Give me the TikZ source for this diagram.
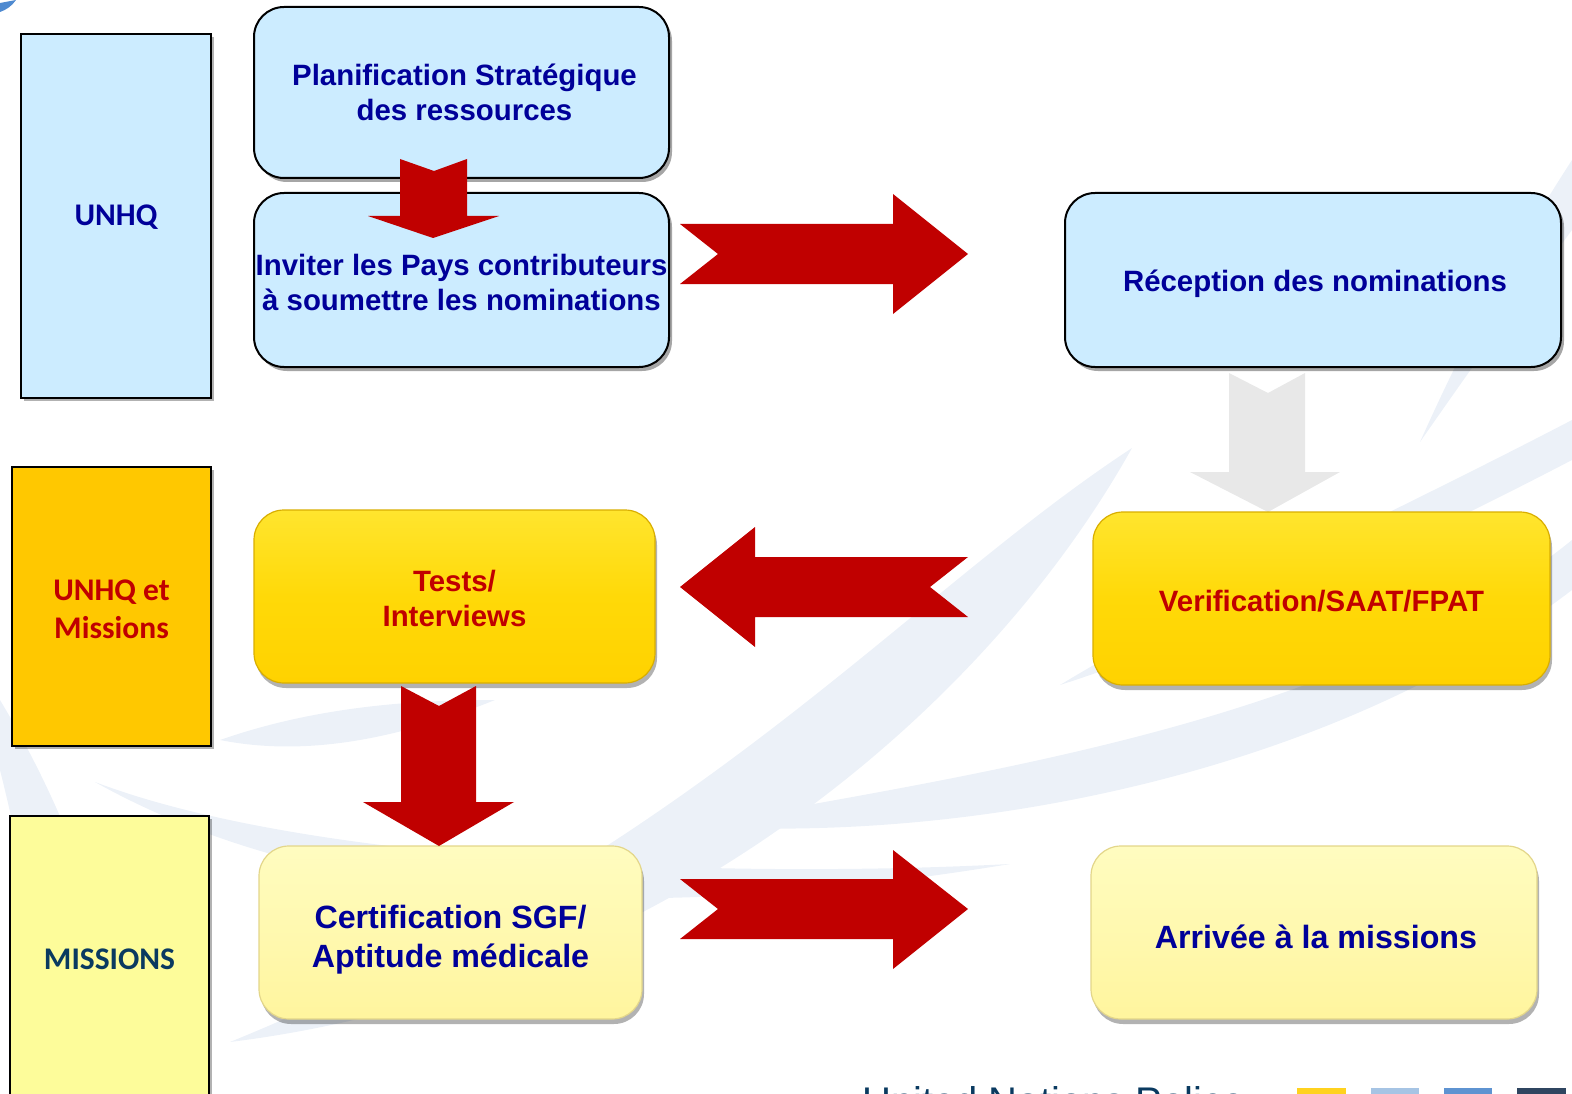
\documentclass[tikz,border=0pt]{standalone}
\usepackage{fontspec}
\setmainfont{Liberation Sans}
\newfontfamily\calib{Carlito}
\usetikzlibrary{shadows,calc}
\definecolor{boxblue}{HTML}{CCECFF}
\definecolor{navytext}{HTML}{000099}
\definecolor{redtext}{HTML}{C00000}
\definecolor{arrowred}{HTML}{C00000}
\definecolor{goldside}{HTML}{FFC800}
\definecolor{paleside}{HTML}{FDFC9A}
\definecolor{misstext}{HTML}{0A3A60}
\definecolor{swoosh}{HTML}{ECF1F8}
\definecolor{grayarrow}{HTML}{E8E8E8}
\definecolor{goldtop}{HTML}{FFE52E}
\definecolor{goldmid}{HTML}{FFD908}
\definecolor{goldbot}{HTML}{FFD200}
\definecolor{goldedge}{HTML}{D9AE00}
\definecolor{paletop}{HTML}{FFFCC0}
\definecolor{palebot}{HTML}{FFF59E}
\definecolor{paleedge}{HTML}{E3D68A}
\definecolor{sqA}{HTML}{FFD21F}
\definecolor{sqB}{HTML}{A6C4E4}
\definecolor{sqC}{HTML}{5E93D1}
\definecolor{sqD}{HTML}{2F4560}
\definecolor{cornerblue}{HTML}{4F8AD0}
\tikzset{
  sidebox/.style={draw=black, line width=1.6pt, inner sep=0pt,
     drop shadow={shadow xshift=3pt, shadow yshift=-3pt, opacity=0.3, fill=black}},
  sidetext/.style={inner sep=0pt, align=center, font=\calib\bfseries\fontsize{31.5}{38}\selectfont},
  bluebox/.style={draw=black, line width=2pt, fill=boxblue, rounded corners=30pt, inner sep=0pt,
     drop shadow={shadow xshift=3pt, shadow yshift=-4pt, opacity=0.35, fill=black}},
  bluetext/.style={inner sep=0pt, align=center, text=navytext, font=\bfseries\fontsize{29.4}{35}\selectfont},
  goldbox/.style={draw=goldedge, line width=1.2pt, top color=goldtop, bottom color=goldbot, middle color=goldmid,
     rounded corners=30pt, inner sep=0pt,
     drop shadow={shadow xshift=2pt, shadow yshift=-5pt, opacity=0.3, fill=black}},
  goldtext/.style={inner sep=0pt, align=center, text=redtext, font=\bfseries\fontsize{29.4}{35}\selectfont},
  palebox/.style={draw=paleedge, line width=1.2pt, top color=paletop, bottom color=palebot,
     rounded corners=30pt, inner sep=0pt,
     drop shadow={shadow xshift=2pt, shadow yshift=-5pt, opacity=0.3, fill=black}},
  paletext/.style={inner sep=0pt, align=center, text=navytext, font=\bfseries\fontsize{32.2}{38.5}\selectfont},
  redarrow/.style={fill=arrowred, draw=none},
  greyarrow/.style={fill=grayarrow, draw=none},
  leaf/.style={fill=swoosh, draw=none},
}
\begin{document}
\begin{tikzpicture}[x=1pt,y=-1pt]
\useasboundingbox (0,0) rectangle (1572,1094);
\begin{scope}
\clip (0,0) rectangle (1572,1094);
% background swooshes
\fill[leaf] (1132,448) .. controls (900,600) and (700,850) .. (230,1042) .. controls (650,990) and (980,720) .. (1132,448) -- cycle;
\fill[leaf] (95,782) .. controls (300,860) and (700,880) .. (1010,864) .. controls (700,915) and (350,925) .. (95,782) -- cycle;
\fill[leaf] (690,826) .. controls (1000,770) and (1350,720) .. (1572,540) -- (1572,590) .. controls (1350,760) and (1000,845) .. (690,826) -- cycle;
\fill[leaf] (220,740) .. controls (320,705) and (420,700) .. (495,700) .. controls (420,730) and (320,760) .. (220,740) -- cycle;
\fill[leaf] (1420,442) .. controls (1470,330) and (1520,240) .. (1572,160) -- (1572,230) .. controls (1520,300) and (1470,370) .. (1420,442) -- cycle;
\fill[leaf] (1060,685) .. controls (1200,600) and (1380,520) .. (1572,420) -- (1572,460) .. controls (1380,560) and (1200,640) .. (1060,685) -- cycle;
\fill[leaf] (0,700) .. controls (60,800) and (110,920) .. (140,1094) -- (60,1094) .. controls (40,950) and (20,850) .. (0,770) -- cycle;
% top-left corner swoosh
\fill[cornerblue] (0,3) -- (16,0) .. controls (12,6) and (6,10) .. (0,12) -- cycle;

% side labels
\node[sidebox, fill=boxblue, minimum width=190pt, minimum height=364pt] (sUNHQ) at (116,216) {};
\node[sidetext, text=navytext] (sUNHQ-t) at ([yshift=-1pt]sUNHQ.center) {UNHQ};
\node[sidebox, fill=goldside, minimum width=199pt, minimum height=279pt] (sBoth) at (111.5,606.5) {};
\node[sidetext, text=redtext] (sBoth-t) at ([yshift=-3pt]sBoth.center) {UNHQ et\\Missions};
\node[sidebox, fill=paleside, minimum width=199pt, minimum height=280pt] (sMiss) at (109.5,956) {};
\node[sidetext, text=misstext] (sMiss-t) at ([yshift=-3pt]sMiss.center) {MISSIONS};

% gray arrow (behind)
\fill[greyarrow] (1229,373) -- (1268,393) -- (1305,373) -- (1305,472) -- (1340,472) -- (1268,512) -- (1190,472) -- (1229,472) -- cycle;

% process boxes
\node[bluebox, minimum width=415pt, minimum height=171pt] (plan) at (461.5,92.5) {};
\node[bluebox, minimum width=415pt, minimum height=174pt] (invit) at (461.5,280) {};
\node[bluebox, minimum width=496pt, minimum height=174pt] (recep) at (1313,280) {};
\node[goldbox, minimum width=401pt, minimum height=173pt] (tests) at (454.5,596.5) {};
\node[goldbox, minimum width=457pt, minimum height=173pt] (verif) at (1321.5,598.5) {};
\node[palebox, minimum width=383pt, minimum height=173pt] (certif) at (450.5,932.5) {};
\node[palebox, minimum width=446pt, minimum height=173pt] (arriv) at (1314,932.5) {};

\node[bluetext] (plan-t) at ([xshift=3pt]plan.center) {Planification Stratégique\\des ressources};
\node[bluetext] (invit-t) at ([yshift=-2pt]invit.center) {Inviter les Pays contributeurs\\à soumettre les nominations};
\node[bluetext] (recep-t) at ([xshift=2pt,yshift=-4pt]recep.center) {Réception des nominations};
\node[goldtext] (tests-t) at ([yshift=-2pt]tests.center) {Tests/\\Interviews};
\node[goldtext] (verif-t) at ([yshift=-3pt]verif.center) {Verification/SAAT/FPAT};
\node[paletext] (certif-t) at ([yshift=-7pt]certif.center) {Certification SGF/\\Aptitude médicale};
\node[paletext] (arriv-t) at ([xshift=2pt,yshift=-4pt]arriv.center) {Arrivée à la missions};

% red block arrows
\fill[redarrow] (400,159) -- (434,171) -- (467,159) -- (467,216) -- (499,216) -- (433,238) -- (368,216) -- (400,216) -- cycle;
\fill[redarrow] (680,224) -- (893,224) -- (893,194) -- (968,254) -- (893,314) -- (893,284) -- (680,284) -- (718,254) -- cycle;
\fill[redarrow] (968,557) -- (755,557) -- (755,527) -- (680,587) -- (755,647) -- (755,617) -- (968,617) -- (930,587) -- cycle;
\fill[redarrow] (401,686) -- (439,706) -- (476,686) -- (476,802) -- (514,802) -- (439,846) -- (363,802) -- (401,802) -- cycle;
\fill[redarrow] (680,879) -- (893,879) -- (893,850) -- (968,909) -- (893,969) -- (893,939) -- (680,939) -- (718,909) -- cycle;

% footer (cut off at the bottom edge)
\node[anchor=base west, inner sep=0pt, text=misstext, font=\fontsize{40}{42}\selectfont] (footer) at (862,1115) {United Nations Police};
\fill[sqA] (1297,1088) rectangle (1346,1100);
\fill[sqB] (1371,1088) rectangle (1419,1100);
\fill[sqC] (1444,1088) rectangle (1492,1100);
\fill[sqD] (1517,1088) rectangle (1566,1100);
\end{scope}
\end{tikzpicture}
\end{document}
